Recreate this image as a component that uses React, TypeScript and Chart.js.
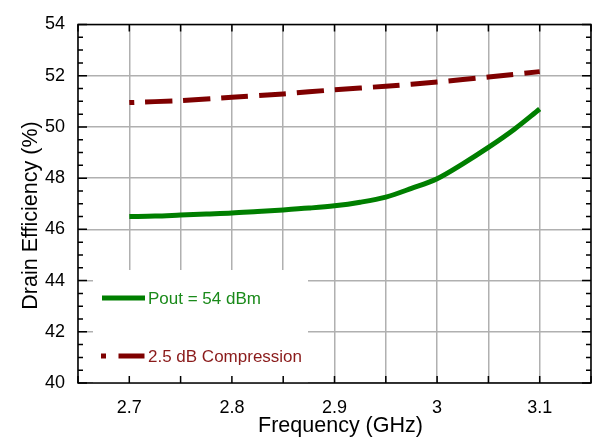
import React, { useEffect, useRef } from "react";
import { Chart, registerables } from "chart.js";

Chart.register(...registerables);

// ---- data ----
const freqPout = [2.7, 2.725, 2.75, 2.775, 2.8, 2.825, 2.85, 2.875, 2.9, 2.925, 2.95, 2.975, 3.0, 3.025, 3.05, 3.075, 3.1];
const effPout = [46.5, 46.52, 46.56, 46.6, 46.64, 46.7, 46.76, 46.83, 46.92, 47.06, 47.26, 47.6, 47.98, 48.56, 49.2, 49.9, 50.7];
const freqComp = [2.7, 2.75, 2.8, 2.85, 2.9, 2.95, 3.0, 3.05, 3.1];
const effComp = [50.95, 51.03, 51.16, 51.29, 51.45, 51.59, 51.75, 51.95, 52.16];
const seriesNames = ["Pout = 54 dBm", "2.5 dB Compression"];
const xTitle = "Frequency (GHz)";
const yTitle = "Drain Efficiency (%)";
const xMin = 2.65, xMax = 3.15, xStep = 0.05;
const yMin = 40, yMax = 54, yStep = 2, yMinorStep = 0.5;

const GREEN = "#007f00";
const RED = "#7f0000";
const FONT = "'Liberation Sans', Arial, sans-serif";

const framePlugin = {
  id: "frameTicks",
  beforeDatasetsDraw(chart: any) {
    const { ctx, chartArea } = chart;
    const x0 = 93, x1 = 308, y0 = 270;
    ctx.save();
    ctx.fillStyle = "#ffffff";
    ctx.fillRect(x0, y0, x1 - x0, chartArea.bottom - y0);
    ctx.restore();
  },
  afterDatasetsDraw(chart: any) {
    const { ctx, chartArea, scales } = chart;
    const { left, right, top, bottom } = chartArea;
    const xs = scales.x, ys = scales.y;
    ctx.save();
    ctx.strokeStyle = "#000";
    ctx.lineWidth = 1.5;
    ctx.beginPath();
    const nY = Math.round((yMax - yMin) / yMinorStep);
    const perMajor = Math.round(yStep / yMinorStep);
    for (let i = 0; i <= nY; i++) {
      const py = ys.getPixelForValue(yMin + i * yMinorStep);
      const len = i % perMajor === 0 ? 9 : 5;
      ctx.moveTo(left, py); ctx.lineTo(left + len, py);
      ctx.moveTo(right, py); ctx.lineTo(right - len, py);
    }
    const nX = Math.round((xMax - xMin) / xStep);
    for (let i = 0; i <= nX; i++) {
      const px = xs.getPixelForValue(xMin + i * xStep);
      ctx.moveTo(px, bottom); ctx.lineTo(px, bottom - 7);
      ctx.moveTo(px, top); ctx.lineTo(px, top + 7);
    }
    ctx.stroke();
    ctx.strokeRect(left, top, right - left, bottom - top);

    // legend
    ctx.lineWidth = 5;
    ctx.lineCap = "butt";
    ctx.strokeStyle = GREEN;
    ctx.beginPath();
    ctx.moveTo(102, 298); ctx.lineTo(145, 298);
    ctx.stroke();
    ctx.strokeStyle = RED;
    ctx.setLineDash([5, 12.5, 26, 100]);
    ctx.beginPath();
    ctx.moveTo(101, 356); ctx.lineTo(145, 356);
    ctx.stroke();
    ctx.setLineDash([]);
    ctx.font = `17px ${FONT}`;
    ctx.textBaseline = "alphabetic";
    ctx.textAlign = "left";
    ctx.fillStyle = "#1a8a1a";
    ctx.fillText(seriesNames[0], 148, 304);
    ctx.fillStyle = "#8a1a1a";
    ctx.fillText(seriesNames[1], 148, 362);

    // axis titles
    ctx.fillStyle = "#000";
    ctx.font = `21.5px ${FONT}`;
    ctx.textAlign = "center";
    ctx.fillText(xTitle, 340.5, 432);
    ctx.translate(37, 215.5);
    ctx.rotate(-Math.PI / 2);
    ctx.fillText(yTitle, 0, 0);
    ctx.restore();
  },
};

export default function App() {
  const ref = useRef<HTMLCanvasElement>(null);
  useEffect(() => {
    if (!ref.current) return;
    const chart = new Chart(ref.current, {
      type: "line",
      data: {
        datasets: [
          {
            label: seriesNames[0],
            data: freqPout.map((f, i) => ({ x: f, y: effPout[i] })),
            borderColor: GREEN,
            borderWidth: 5,
            pointRadius: 0,
            cubicInterpolationMode: "monotone",
            fill: false,
          },
          {
            label: seriesNames[1],
            data: freqComp.map((f, i) => ({ x: f, y: effComp[i] })),
            borderColor: RED,
            borderWidth: 5,
            borderDash: [27, 11],
            borderDashOffset: 22,
            borderCapStyle: "butt",
            pointRadius: 0,
            tension: 0.2,
            fill: false,
          },
        ],
      },
      options: {
        responsive: false,
        animation: false,
        layout: { padding: { left: 0, top: 24.5, right: 3, bottom: 0 } },
        plugins: { legend: { display: false }, tooltip: { enabled: false } },
        scales: {
          x: {
            type: "linear",
            min: xMin,
            max: xMax,
            afterFit: (s: any) => { s.height = 59; s.paddingLeft = 0; s.paddingRight = 0; },
            border: { display: false },
            grid: { color: "#b0b0b0", lineWidth: 1.5, drawTicks: false },
            ticks: {
              stepSize: xStep,
              autoSkip: false,
              maxRotation: 0,
              padding: 14,
              color: "#000",
              font: { family: FONT, size: 18 },
              callback: (v: any) => {
                const t = Number(v) * 10;
                return Math.abs(t - Math.round(t)) < 1e-6 ? String(Math.round(t) / 10) : "";
              },
            },
            title: { display: false },
          },
          y: {
            min: yMin,
            max: yMax,
            afterFit: (s: any) => { s.width = 78; s.paddingTop = 0; s.paddingBottom = 0; },
            border: { display: false },
            grid: { color: "#b0b0b0", lineWidth: 1.5, drawTicks: false },
            ticks: { stepSize: yStep, padding: 13, color: "#000", font: { family: FONT, size: 18 } },
            title: { display: false },
          },
        },
      },
      plugins: [framePlugin],
    } as any);
    return () => chart.destroy();
  }, []);
  return (
    <div style={{ position: "fixed", left: 0, top: 0, width: 594, height: 442, background: "#fff" }}>
      <canvas ref={ref} width={594} height={442} />
    </div>
  );
}
